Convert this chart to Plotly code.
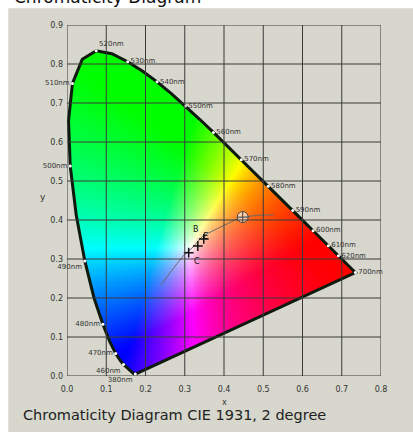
import numpy as np
import plotly.graph_objects as go

# ---------------- data ----------------
wavelengths = [380, 385, 390, 395, 400, 405, 410, 415, 420, 425, 430, 435, 440, 445, 450,
               455, 460, 465, 470, 475, 480, 485, 490, 495, 500, 505, 510, 515, 520, 525,
               530, 535, 540, 545, 550, 555, 560, 565, 570, 575, 580, 585, 590, 595, 600,
               605, 610, 615, 620, 625, 630, 635, 640, 645, 650, 655, 660, 665, 670, 675,
               680, 685, 690, 695, 700]
locus_x = [0.1741, 0.1740, 0.1738, 0.1736, 0.1733, 0.1730, 0.1726, 0.1721, 0.1714, 0.1703,
           0.1689, 0.1669, 0.1644, 0.1611, 0.1566, 0.1510, 0.1440, 0.1355, 0.1241, 0.1096,
           0.0913, 0.0687, 0.0454, 0.0235, 0.0082, 0.0039, 0.0139, 0.0389, 0.0743, 0.1142,
           0.1547, 0.1929, 0.2296, 0.2658, 0.3016, 0.3373, 0.3731, 0.4087, 0.4441, 0.4788,
           0.5125, 0.5448, 0.5752, 0.6029, 0.6270, 0.6482, 0.6658, 0.6801, 0.6915, 0.7006,
           0.7079, 0.7140, 0.7190, 0.7230, 0.7260, 0.7283, 0.7300, 0.7311, 0.7320, 0.7327,
           0.7334, 0.7340, 0.7344, 0.7346, 0.7347]
locus_y = [0.0050, 0.0050, 0.0049, 0.0049, 0.0048, 0.0048, 0.0048, 0.0048, 0.0051, 0.0058,
           0.0069, 0.0086, 0.0109, 0.0138, 0.0177, 0.0227, 0.0297, 0.0399, 0.0578, 0.0868,
           0.1327, 0.2007, 0.2950, 0.4127, 0.5384, 0.6548, 0.7502, 0.8120, 0.8338, 0.8262,
           0.8059, 0.7816, 0.7543, 0.7243, 0.6923, 0.6589, 0.6245, 0.5896, 0.5547, 0.5202,
           0.4866, 0.4544, 0.4242, 0.3965, 0.3725, 0.3514, 0.3340, 0.3197, 0.3083, 0.2993,
           0.2920, 0.2859, 0.2809, 0.2770, 0.2740, 0.2717, 0.2700, 0.2689, 0.2680, 0.2673,
           0.2666, 0.2660, 0.2656, 0.2654, 0.2653]

labels_right = [520, 530, 540, 550, 560, 570, 580, 590, 600, 610, 620, 700]
labels_left = [510, 500, 490, 480, 470, 460, 380]

planck_x = [0.2399, 0.2521, 0.2637, 0.2807, 0.2993, 0.3135, 0.3221, 0.3457, 0.3805, 0.4369, 0.4476, 0.4875, 0.5267]
planck_y = [0.2342, 0.2516, 0.2665, 0.2884, 0.3114, 0.3237, 0.3318, 0.3586, 0.3768, 0.4041, 0.4074, 0.4122, 0.4133]

illum_names = ["B", "C", "E"]
illum_x = [0.3484, 0.3101, 0.3333]
illum_y = [0.3516, 0.3162, 0.3333]
illumA_x = [0.4476]
illumA_y = [0.4074]

tick_vals_x = [0.0, 0.1, 0.2, 0.3, 0.4, 0.5, 0.6, 0.7, 0.8]
tick_vals_y = [0.0, 0.1, 0.2, 0.3, 0.4, 0.5, 0.6, 0.7, 0.8, 0.9]
tick_text_x = ["0.0", "0.1", "0.2", "0.3", "0.4", "0.5", "0.6", "0.7", "0.8"]
tick_text_y = ["0.0", "0.1", "0.2", "0.3", "0.4", "0.5", "0.6", "0.7", "0.8", "0.9"]

# ---------------- chromaticity fill ----------------
step = 0.004
nx, ny = 200, 225
gx = (np.arange(nx) + 0.5) * step
gy = (np.arange(ny) + 0.5) * step
XX, YY = np.meshgrid(gx, gy)
Yc = np.maximum(YY, 1e-4)
X = XX / Yc
Z = (1 - XX - YY) / Yc
M = np.array([[3.2406, -1.5372, -0.4986], [-0.9689, 1.8758, 0.0415], [0.0557, -0.2040, 1.0570]])
rgb = np.stack([M[i, 0] * X + M[i, 1] * 1.0 + M[i, 2] * Z for i in range(3)], axis=-1)
rgb = np.clip(rgb, 0, None)
rgb = rgb / np.maximum(rgb.max(axis=-1, keepdims=True), 1e-9)
rgb = rgb ** 2.0
rgb = np.where(rgb <= 0.0031308, 12.92 * rgb, 1.055 * np.power(rgb, 1 / 2.4) - 0.055)
rgb = (np.clip(rgb, 0, 1) * 255).astype(int)

px = np.array(locus_x + [locus_x[0]])
py = np.array(locus_y + [locus_y[0]])
inside = np.zeros(XX.shape, dtype=bool)
for i in range(len(px) - 1):
    x1, y1, x2, y2 = px[i], py[i], px[i + 1], py[i + 1]
    cond = (y1 > YY) != (y2 > YY)
    xint = x1 + (YY - y1) * (x2 - x1) / ((y2 - y1) if y2 != y1 else 1e-12)
    inside ^= cond & (XX < xint)
alpha = np.where(inside, 255, 0)
img = np.concatenate([rgb, alpha[..., None]], axis=-1).tolist()

fig = go.Figure()
fig.add_trace(go.Image(z=img, colormodel="rgba", x0=step / 2, dx=step, y0=step / 2, dy=step,
                       hoverinfo="skip"))

panel = "#d7d7cd"
grid = "#3a3a3a"
shapes = [dict(type="rect", xref="paper", yref="paper", x0=-0.187, x1=1.11, y0=-0.17, y1=1.048,
               fillcolor=panel, line=dict(width=0), layer="below")]
for v in tick_vals_x:
    shapes.append(dict(type="line", xref="x", yref="y", x0=v, x1=v, y0=0, y1=0.9,
                       line=dict(color=grid, width=1), layer="above"))
for v in tick_vals_y:
    shapes.append(dict(type="line", xref="x", yref="y", x0=0, x1=0.8, y0=v, y1=v,
                       line=dict(color=grid, width=1), layer="above"))

# spectral locus
fig.add_trace(go.Scatter(x=locus_x + [locus_x[0]], y=locus_y + [locus_y[0]], mode="lines",
                         line=dict(color="#0d1a0d", width=3), hoverinfo="skip"))

# planckian locus
fig.add_trace(go.Scatter(x=planck_x, y=planck_y, mode="lines",
                         line=dict(color="#6a6a6a", width=1), hoverinfo="skip"))

lab_font = dict(family="DejaVu Sans", size=7, color="#333333")
rx = [locus_x[wavelengths.index(w)] for w in labels_right]
ry = [locus_y[wavelengths.index(w)] for w in labels_right]
fig.add_trace(go.Scatter(x=rx, y=ry, mode="markers+text", text=[f"{w}nm" for w in labels_right],
                         textposition=["top right"] + ["middle right"] * (len(labels_right) - 1),
                         textfont=lab_font, cliponaxis=False,
                         marker=dict(color="white", size=3), hoverinfo="skip"))
lx = [locus_x[wavelengths.index(w)] for w in labels_left]
ly = [locus_y[wavelengths.index(w)] for w in labels_left]
fig.add_trace(go.Scatter(x=lx, y=ly, mode="markers+text", text=[f"{w}nm" for w in labels_left],
                         textposition=["middle left", "middle left", "bottom left", "middle left",
                                       "middle left", "bottom left", "bottom left"],
                         textfont=lab_font, cliponaxis=False,
                         marker=dict(color="white", size=3), hoverinfo="skip"))

# illuminants
fig.add_trace(go.Scatter(x=illum_x, y=illum_y, mode="markers+text", text=illum_names,
                         textposition=["top left", "bottom right", "top right"],
                         textfont=dict(family="DejaVu Sans", size=8, color="#111111"),
                         marker=dict(symbol="cross-thin", size=7, line=dict(color="#111111", width=1.5)),
                         hoverinfo="skip"))
fig.add_trace(go.Scatter(x=illumA_x, y=illumA_y, mode="markers",
                         marker=dict(symbol="circle-cross", size=11, color="rgba(255,255,255,0.6)",
                                     line=dict(color="#444444", width=1)),
                         hoverinfo="skip"))

tick_font = dict(family="DejaVu Sans", size=8, color="#333333")
fig.update_layout(
    width=413, height=432,
    margin=dict(l=66.7, r=32, t=25, b=56),
    paper_bgcolor="white", plot_bgcolor="rgba(0,0,0,0)",
    showlegend=False,
    shapes=shapes,
    xaxis=dict(range=[0, 0.8], autorange=False, showgrid=False, zeroline=False,
               tickvals=tick_vals_x, ticktext=tick_text_x, tickfont=tick_font,
               ticks="", showline=False, fixedrange=True, ticklabelstandoff=7),
    yaxis=dict(range=[0, 0.9], autorange=False, showgrid=False, zeroline=False,
               tickvals=tick_vals_y, ticktext=tick_text_y, tickfont=tick_font,
               ticks="", showline=False, scaleanchor=False, fixedrange=True, ticklabelstandoff=3),
    annotations=[
        dict(text="Chromaticity Diagram", xref="paper", yref="paper", x=-0.175, y=1.046,
             xanchor="left", yanchor="bottom", showarrow=False,
             font=dict(family="DejaVu Sans", size=17, color="#111111")),
        dict(text="Chromaticity Diagram CIE 1931, 2 degree", xref="paper", yref="paper",
             x=-0.148, y=-0.082, xanchor="left", yanchor="top", showarrow=False,
             font=dict(family="DejaVu Sans", size=14.5, color="#222222")),
        dict(text="x", xref="x", yref="paper", x=0.4, y=-0.058, xanchor="center", yanchor="top",
             showarrow=False, font=dict(family="DejaVu Sans", size=8, color="#333333")),
        dict(text="y", xref="paper", yref="y", x=-0.075, y=0.46, xanchor="center", yanchor="middle",
             showarrow=False, font=dict(family="DejaVu Sans", size=9, color="#333333")),
    ],
)
fig.write_html("out.html", config={"displayModeBar": False},
               post_script="document.body.style.margin='0';")
